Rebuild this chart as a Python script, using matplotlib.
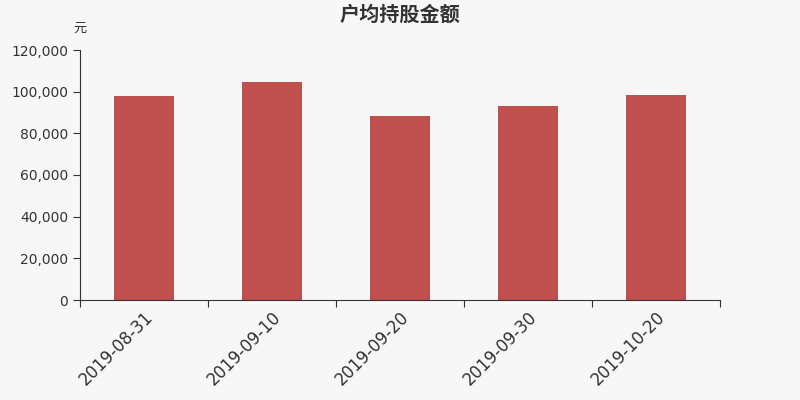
import matplotlib
matplotlib.use('Agg')
from matplotlib import pyplot as plt
import matplotlib.ticker as mticker
import numpy as np

plt.rcParams['font.family'] = ['Noto Sans CJK SC', 'DejaVu Sans']

dates = ['2019-08-31', '2019-09-10', '2019-09-20', '2019-09-30', '2019-10-20']
values = [97900, 104600, 88300, 92900, 98300]

bg = '#f7f7f7'
fig = plt.figure(figsize=(8, 4), dpi=100, facecolor=bg)
ax = fig.add_axes([0.1, 0.25, 0.8, 0.625], facecolor=bg)

x = np.arange(len(dates))
ax.bar(x, values, width=0.47, color='#c0504d', zorder=2)

ax.set_xlim(-0.5, len(dates) - 0.5)
ax.set_ylim(0, 120000)
ax.yaxis.set_major_locator(mticker.MultipleLocator(20000))
ax.yaxis.set_major_formatter(mticker.FuncFormatter(lambda v, p: '{:,.0f}'.format(v)))

# ticks at category boundaries, labels centred under bars
ax.set_xticks(np.arange(len(dates) + 1) - 0.5)
ax.set_xticklabels([])
ax.set_xticks(x, minor=True)
ax.set_xticklabels(dates, minor=True, rotation=45, ha='right', rotation_mode='anchor',
                   fontsize=12, color='#333333', family='DejaVu Sans')
ax.tick_params(axis='x', which='minor', length=0, pad=6)
ax.tick_params(axis='x', which='major', length=5, color='#333333')
ax.tick_params(axis='y', length=5, color='#333333', labelsize=10, labelcolor='#333333')
for lab in ax.get_yticklabels():
    lab.set_family('DejaVu Sans')

for s in ['top', 'right']:
    ax.spines[s].set_visible(False)
for s in ['left', 'bottom']:
    ax.spines[s].set_color('#333333')

fig.text(0.5, 0.965, '户均持股金额', ha='center', va='center', fontsize=14.5,
         fontweight='bold', color='#333333')
fig.text(0.1, 0.93, '元', ha='center', va='center', fontsize=9.5, color='#333333')

fig.savefig('out.png', dpi=100, facecolor=bg)
